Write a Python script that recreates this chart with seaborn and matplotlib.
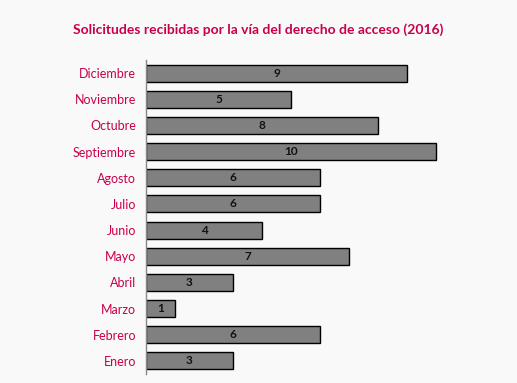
import matplotlib
matplotlib.use("Agg")
import matplotlib.pyplot as plt
import seaborn as sns
import pandas as pd

meses = ["Diciembre", "Noviembre", "Octubre", "Septiembre", "Agosto", "Julio",
         "Junio", "Mayo", "Abril", "Marzo", "Febrero", "Enero"]
solicitudes = [9, 5, 8, 10, 6, 6, 4, 7, 3, 1, 6, 3]

df = pd.DataFrame({"mes": meses, "n": solicitudes})

sns.set_style("white")
plt.rcParams["font.family"] = ["Lato", "DejaVu Sans"]

rojo = "#c8004b"
fondo = "#f9f9f9"

fig = plt.figure(figsize=(5.17, 3.83), dpi=100, facecolor=fondo)
ax = fig.add_axes([146 / 517, 9 / 383, (12.5 * 29) / 517, 314 / 383])
ax.set_facecolor(fondo)

sns.barplot(data=df, x="n", y="mes", order=meses, orient="h", color="#808080",
            saturation=1, edgecolor="black", linewidth=1.0, width=0.65, ax=ax)

for c in ax.containers:
    ax.bar_label(c, label_type="center", fontsize=8.5, fontweight="bold", color="#111111")

ax.set_xlim(0, 12.5)
ax.set_ylim(11.5, -0.5)
ax.set_xlabel("")
ax.set_ylabel("")
ax.set_xticks([])
ax.tick_params(axis="y", length=0, pad=7, labelsize=9, labelcolor=rojo)
for s in ["top", "right", "bottom"]:
    ax.spines[s].set_visible(False)
ax.spines["left"].set_color("#888888")
ax.spines["left"].set_linewidth(1)

fig.text(0.5, 1 - 30 / 383, "Solicitudes recibidas por la vía del derecho de acceso (2016)",
         ha="center", va="center", fontsize=10, fontweight="bold", color=rojo)

fig.savefig("out.png", dpi=100, facecolor=fondo)
